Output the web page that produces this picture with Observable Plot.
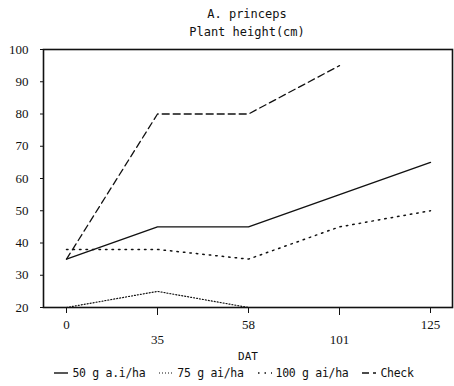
<!DOCTYPE html>
<html>
<head>
<meta charset="utf-8">
<script src="https://cdn.jsdelivr.net/npm/d3@7"></script>
<script src="https://cdn.jsdelivr.net/npm/@observablehq/plot@0.6"></script>
<style>
  body { margin: 0; background: #fff; width: 454px; }
  .title { font-family: "DejaVu Sans Mono", monospace; font-size: 12px; color: #111; text-align: center; width: 454px; padding-left: 40px; box-sizing: border-box; }
  #t1 { height: 21px; line-height: 21px; padding-top: 4px; }
  #t2 { height: 20px; line-height: 22px; }
  #legend { font-family: "DejaVu Sans Mono", monospace; font-size: 11.5px; letter-spacing: -0.3px; color: #111; display: flex; justify-content: center; gap: 14px; padding-left: 14px; margin-top: 3px; }
  #legend span { display: inline-flex; align-items: center; gap: 4px; }
  g[aria-label$="tick label"] text { font-family: "Times New Roman", "Liberation Serif", serif; }
  g[aria-label="text"] text { font-family: "DejaVu Sans Mono", monospace; }
</style>
</head>
<body>
<div class="title" id="t1">A. princeps</div>
<div class="title" id="t2">Plant height(cm)</div>
<div id="chart"></div>
<div id="legend"></div>
<script>
const days = [0, 35, 58, 101, 125];
const seriesNames = ["50 g a.i/ha", "75 g ai/ha", "100 g ai/ha", "Check"];
const s50 = [35, 45, 45, 55, 65];
const s75 = [20, 25, 20, null, null];
const s100 = [38, 38, 35, 45, 50];
const sCheck = [35, 80, 80, 95, null];
const yTicks = [20, 30, 40, 50, 60, 70, 80, 90, 100];
const xTicksRow1 = [0, 58, 125];
const xTicksRow2 = [35, 101];

const dashes = ["none", "1,2", "1.5,5", "7,4"];
const widths = [1.4, 1.2, 1.5, 1.3];
const allSeries = [s50, s75, s100, sCheck];

const rows = [];
allSeries.forEach((vals, i) => {
  days.forEach((d, j) => rows.push({ series: seriesNames[i], day: d, value: vals[j] }));
});

const lineMarks = seriesNames.map((name, i) =>
  Plot.line(rows.filter(r => r.series === name), {
    x: "day", y: "value", stroke: "#111",
    strokeWidth: widths[i], strokeDasharray: dashes[i]
  })
);

const serif = "Times New Roman";

const chart = Plot.plot({
  width: 454,
  height: 322,
  marginLeft: 43,
  marginRight: 2,
  marginTop: 8,
  marginBottom: 56,
  style: { fontFamily: serif, fontSize: "13px", color: "#111", background: "#fff" },
  x: { type: "point", domain: days, padding: 0.23 },
  y: { domain: [20, 100] },
  marks: [
    Plot.frame({ stroke: "#111", strokeWidth: 1.6 }),
    Plot.axisY({ ticks: yTicks, tickSize: 3, tickPadding: 12, label: null, fontFamily: serif, fontSize: 13 }),
    Plot.axisX({ ticks: xTicksRow1, tickSize: 6, tickPadding: 6, label: null, fontFamily: serif, fontSize: 13 }),
    Plot.axisX({ ticks: xTicksRow2, tickSize: 8, tickPadding: 19, label: null, fontFamily: serif, fontSize: 13 }),
    Plot.text(["DAT"], { frameAnchor: "bottom", dy: 52, fontFamily: "DejaVu Sans Mono", fontSize: 11 }),
    ...lineMarks
  ]
});
document.getElementById("chart").appendChild(chart);

const legend = document.getElementById("legend");
seriesNames.forEach((name, i) => {
  const span = document.createElement("span");
  span.innerHTML = `<svg width="14" height="6"><line x1="0" y1="3" x2="14" y2="3" stroke="#111" stroke-width="${widths[i]}" stroke-dasharray="${dashes[i]}"/></svg>${name}`;
  legend.appendChild(span);
});
</script>
</body>
</html>
